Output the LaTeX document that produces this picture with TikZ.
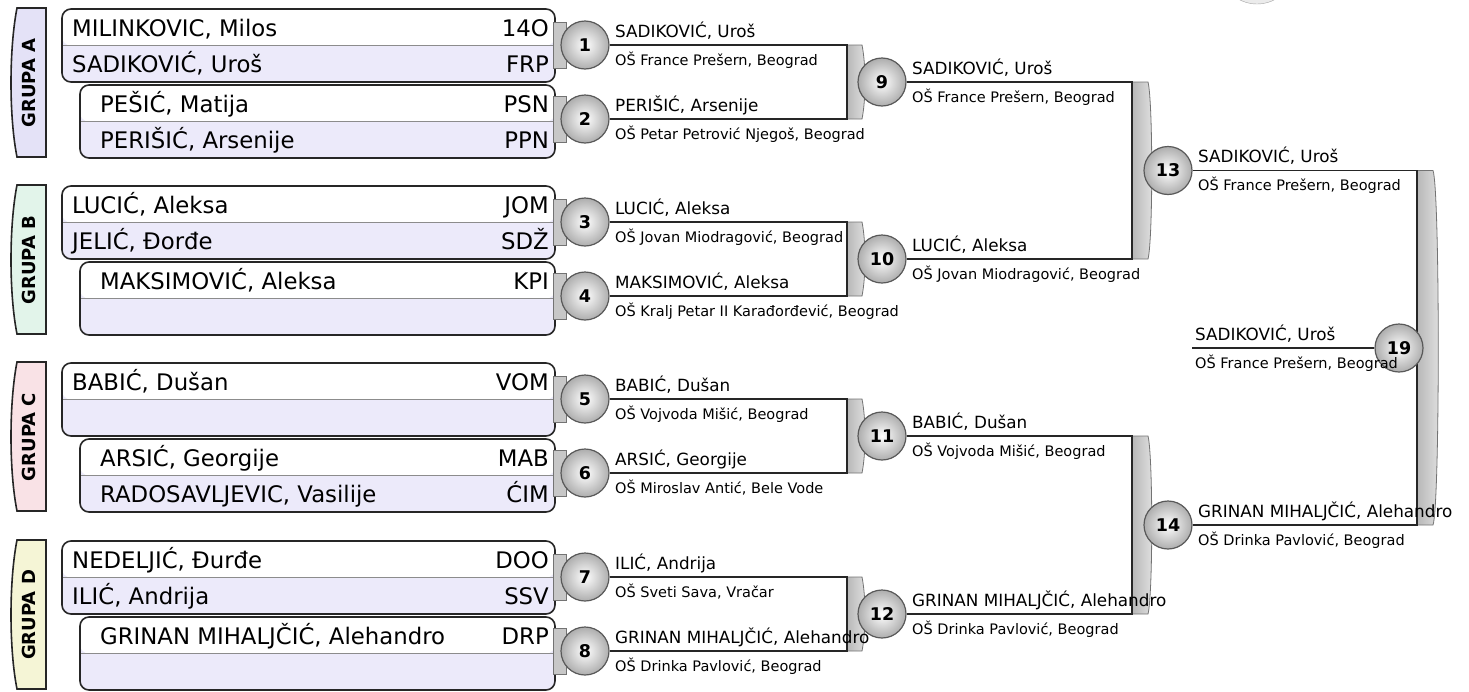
\documentclass[tikz,border=0pt]{standalone}
\usepackage{fontspec}
\setmainfont{DejaVu Sans}

\definecolor{rowlav}{HTML}{ECEAFA}
\definecolor{tabA}{HTML}{E4E2F7}
\definecolor{tabB}{HTML}{E2F4EA}
\definecolor{tabC}{HTML}{F9E2E6}
\definecolor{tabD}{HTML}{F5F5D6}

\begin{document}
\begin{tikzpicture}[x=1pt, y=-1pt,
grouptab/.style={draw=black!85, line width=1.6pt},
tablabel/.style={rotate=90, inner sep=0pt, font=\fontsize{18}{18}\selectfont\bfseries},
pairbox/.style={rectangle, rounded corners=9pt, draw=black!85, line width=1.6pt, fill=rowlav, minimum height=73pt, inner sep=0pt,
  path picture={\fill[white] (path picture bounding box.north west) rectangle (path picture bounding box.east);
    \draw[black!45, line width=1pt] (path picture bounding box.west) -- (path picture bounding box.east);}},
player/.style={anchor=base west, inner sep=0pt, font=\fontsize{22.8}{22.8}\selectfont},
code/.style={anchor=base east, inner sep=0pt, font=\fontsize{22.8}{22.8}\selectfont},
stub/.style={draw=black!55, fill=black!22, line width=0.8pt},
bracket/.style={draw=black!55, line width=0.8pt, left color=black!28, right color=black!12},
wire/.style={draw=black!85, line width=1.8pt},
match/.style={circle, draw=black!65, line width=1.2pt, inner color=white, outer color=black!32, minimum size=48pt, inner sep=0pt, font=\fontsize{17.5}{17.5}\selectfont\bfseries},
winner/.style={anchor=base west, inner sep=0pt, font=\fontsize{16.8}{16.8}\selectfont},
school/.style={anchor=base west, inner sep=0pt, font=\fontsize{14.5}{14.5}\selectfont},
]
\useasboundingbox (0,0) rectangle (1469,691);
\node[circle, draw=black!35, fill=black!8, minimum size=76pt] (deco) at (1257,-34) {};

\foreach \t/\g/\c in {9/A/tabA, 186/B/tabB, 363/C/tabC, 541/D/tabD} {
  \draw[grouptab, fill=\c] (46,\t-1) -- (17,\t-1) .. controls (9,\t+40) and (9,\t+108) .. (17,\t+148) -- (46,\t+148) -- cycle;
  \node[tablabel] (tab\g) at (29,\t+74) {GRUPA \g};
}

% GRUPA A
\node[pairbox, minimum width=493pt] (pA1) at (308.5,45.5) {};
\node[pairbox, minimum width=475pt] (pA2) at (317.5,121.5) {};
\node[player] (nA1) at (72,36) {MILINKOVIC, Milos};      \node[code] (kA1) at (549,36) {14O};
\node[player] (nA2) at (72,72) {SADIKOVIĆ, Uroš};        \node[code] (kA2) at (549,72) {FRP};
\node[player] (nA3) at (100,112) {PEŠIĆ, Matija};        \node[code] (kA3) at (549,112) {PSN};
\node[player] (nA4) at (100,148) {PERIŠIĆ, Arsenije};    \node[code] (kA4) at (549,148) {PPN};
% GRUPA B
\node[pairbox, minimum width=493pt] (pB1) at (308.5,222.5) {};
\node[pairbox, minimum width=475pt] (pB2) at (317.5,298.5) {};
\node[player] (nB1) at (72,213) {LUCIĆ, Aleksa};         \node[code] (kB1) at (549,213) {JOM};
\node[player] (nB2) at (72,249) {JELIĆ, Đorđe};          \node[code] (kB2) at (549,249) {SDŽ};
\node[player] (nB3) at (100,289) {MAKSIMOVIĆ, Aleksa};   \node[code] (kB3) at (549,289) {KPI};
% GRUPA C
\node[pairbox, minimum width=493pt] (pC1) at (308.5,399.5) {};
\node[pairbox, minimum width=475pt] (pC2) at (317.5,475.5) {};
\node[player] (nC1) at (72,390) {BABIĆ, Dušan};          \node[code] (kC1) at (549,390) {VOM};
\node[player] (nC3) at (100,466) {ARSIĆ, Georgije};      \node[code] (kC3) at (549,466) {MAB};
\node[player] (nC4) at (100,502) {RADOSAVLJEVIC, Vasilije}; \node[code] (kC4) at (549,502) {ĆIM};
% GRUPA D
\node[pairbox, minimum width=493pt] (pD1) at (308.5,577.5) {};
\node[pairbox, minimum width=475pt] (pD2) at (317.5,653.5) {};
\node[player] (nD1) at (72,568) {NEDELJIĆ, Đurđe};       \node[code] (kD1) at (549,568) {DOO};
\node[player] (nD2) at (72,604) {ILIĆ, Andrija};         \node[code] (kD2) at (549,604) {SSV};
\node[player] (nD3) at (100,644) {GRINAN MIHALJČIĆ, Alehandro}; \node[code] (kD3) at (549,644) {DRP};

\foreach \y in {45,119,222,296,399,473,577,651}
  \draw[stub] (553,\y-23) rectangle (566,\y+23);
\foreach \x/\ya/\yb/\w/\b in {847/45/119/15/4, 847/222/296/15/4, 847/399/473/15/4, 847/577/651/15/4,
    1132/82/259/16/5, 1132/436/614/16/5, 1417/170.5/525/16/7}
  \draw[bracket] (\x,\ya) -- (\x+\w,\ya) .. controls (\x+\w+\b,\ya+20) and (\x+\w+\b,\yb-20) .. (\x+\w,\yb) -- (\x,\yb) -- cycle;

\coordinate (b9) at (847,82);
\coordinate (b10) at (847,259);
\coordinate (b11) at (847,436);
\coordinate (b12) at (847,614);
\coordinate (b13) at (1132,170.5);
\coordinate (b14) at (1132,525);
\coordinate (b19) at (1417,348);
\coordinate (l19) at (1192,348);

\node[match] (m1) at (585,45) {1};
\node[match] (m2) at (585,119) {2};
\node[match] (m3) at (585,222) {3};
\node[match] (m4) at (585,296) {4};
\node[match] (m5) at (585,399) {5};
\node[match] (m6) at (585,473) {6};
\node[match] (m7) at (585,577) {7};
\node[match] (m8) at (585,651) {8};
\node[match] (m9) at (882,82) {9};
\node[match] (m10) at (882,259) {10};
\node[match] (m11) at (882,436) {11};
\node[match] (m12) at (882,614) {12};
\node[match] (m13) at (1168,170.5) {13};
\node[match] (m14) at (1168,525) {14};

\draw[wire] (m1) -- (m1 -| b9) -- (m2 -| b9) -- (m2);
\draw[wire] (m3) -- (m3 -| b10) -- (m4 -| b10) -- (m4);
\draw[wire] (m5) -- (m5 -| b11) -- (m6 -| b11) -- (m6);
\draw[wire] (m7) -- (m7 -| b12) -- (m8 -| b12) -- (m8);
\draw[wire] (m9) -- (m9 -| b13) -- (m10 -| b13) -- (m10);
\draw[wire] (m11) -- (m11 -| b14) -- (m12 -| b14) -- (m12);
\draw[wire] (m13) -- (m13 -| b19) -- (m14 -| b19) -- (m14);
\node[match] (m19) at (1399,348) {19};
\draw[wire] (l19) -- (m19);

\node[winner] (w1) at (615,37) {SADIKOVIĆ, Uroš};
\node[school] (s1) at (615,65) {OŠ France Prešern, Beograd};
\node[winner] (w2) at (615,111) {PERIŠIĆ, Arsenije};
\node[school] (s2) at (615,139) {OŠ Petar Petrović Njegoš, Beograd};
\node[winner] (w3) at (615,214) {LUCIĆ, Aleksa};
\node[school] (s3) at (615,242) {OŠ Jovan Miodragović, Beograd};
\node[winner] (w4) at (615,288) {MAKSIMOVIĆ, Aleksa};
\node[school] (s4) at (615,316) {OŠ Kralj Petar II Karađorđević, Beograd};
\node[winner] (w5) at (615,391) {BABIĆ, Dušan};
\node[school] (s5) at (615,419) {OŠ Vojvoda Mišić, Beograd};
\node[winner] (w6) at (615,465) {ARSIĆ, Georgije};
\node[school] (s6) at (615,493) {OŠ Miroslav Antić, Bele Vode};
\node[winner] (w7) at (615,569) {ILIĆ, Andrija};
\node[school] (s7) at (615,597) {OŠ Sveti Sava, Vračar};
\node[winner] (w8) at (615,643) {GRINAN MIHALJČIĆ, Alehandro};
\node[school] (s8) at (615,671) {OŠ Drinka Pavlović, Beograd};
\node[winner] (w9) at (912,74) {SADIKOVIĆ, Uroš};
\node[school] (s9) at (912,102) {OŠ France Prešern, Beograd};
\node[winner] (w10) at (912,251) {LUCIĆ, Aleksa};
\node[school] (s10) at (912,279) {OŠ Jovan Miodragović, Beograd};
\node[winner] (w11) at (912,428) {BABIĆ, Dušan};
\node[school] (s11) at (912,456) {OŠ Vojvoda Mišić, Beograd};
\node[winner] (w12) at (912,606) {GRINAN MIHALJČIĆ, Alehandro};
\node[school] (s12) at (912,634) {OŠ Drinka Pavlović, Beograd};
\node[winner] (w13) at (1198,162.5) {SADIKOVIĆ, Uroš};
\node[school] (s13) at (1198,190.5) {OŠ France Prešern, Beograd};
\node[winner] (w14) at (1198,517) {GRINAN MIHALJČIĆ, Alehandro};
\node[school] (s14) at (1198,545) {OŠ Drinka Pavlović, Beograd};
\node[winner] (w19) at (1195,340) {SADIKOVIĆ, Uroš};
\node[school] (s19) at (1195,368) {OŠ France Prešern, Beograd};
\end{tikzpicture}
\end{document}
